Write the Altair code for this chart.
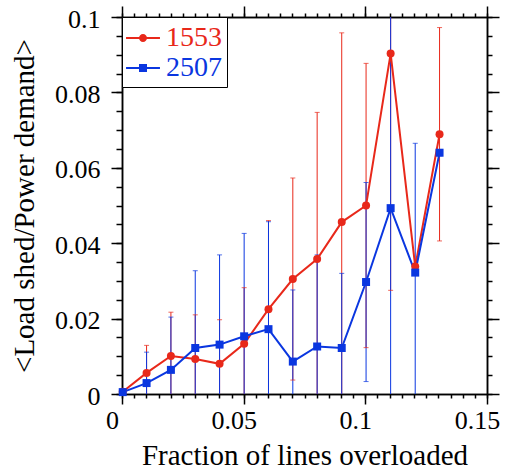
import altair as alt
import pandas as pd

FONT = "Liberation Serif"

# ---- data ----
frac = [0.0003, 0.0101, 0.0201, 0.0301, 0.0401, 0.0502, 0.0602,
        0.0702, 0.0802, 0.0903, 0.1003, 0.1104, 0.1205, 0.1305]

red_mean = [0.0006, 0.0056, 0.0101, 0.0093, 0.0080, 0.0133, 0.0225,
            0.0305, 0.0358, 0.0456, 0.0500, 0.0903, 0.0338, 0.0689]
red_err = [0.0005, 0.0073, 0.0116, 0.0117, 0.0117, 0.0149, 0.0235,
           0.0268, 0.0389, 0.0502, 0.0377, 0.0628, 0.0008, 0.0283]

blue_mean = [0.0005, 0.0029, 0.0064, 0.0122, 0.0131, 0.0153, 0.0172,
             0.0086, 0.0126, 0.0122, 0.0297, 0.0493, 0.0322, 0.0640]
blue_err = [0.0005, 0.0082, 0.0140, 0.0205, 0.0238, 0.0273, 0.0285,
            0.0190, 0.0243, 0.0198, 0.0264, 0.0560, 0.0343, 0.0008]

series_names = ["1553", "2507"]
series_colors = ["#E8281A", "#0A36E0"]

x_major = [0, 0.05, 0.1, 0.15]
y_major = [0, 0.02, 0.04, 0.06, 0.08, 0.1]
x_minor = [round(i * 0.005, 3) for i in range(31)]
y_minor = [round(i * 0.005, 3) for i in range(21)]

rows = []
for name, means, errs in [(series_names[0], red_mean, red_err),
                          (series_names[1], blue_mean, blue_err)]:
    for f, m, e in zip(frac, means, errs):
        rows.append({"series": name, "frac": f, "mean": m,
                     "lo": m - e, "hi": m + e})
df = pd.DataFrame(rows)

xs = alt.Scale(domain=[0, 0.15], nice=False, zero=False)
ys = alt.Scale(domain=[0, 0.1], nice=False, zero=False)
cscale = alt.Scale(domain=series_names, range=series_colors)

common = dict(domainColor="black", tickColor="black", domainWidth=1.5,
              tickWidth=1.5, grid=False, labelFont=FONT, labelColor="black")


def blank_axis(orient, values, size):
    return alt.Axis(orient=orient, values=values, tickSize=size, labels=False,
                    title=None, **common)


x_bottom = alt.Axis(orient="bottom", values=x_major, tickSize=10, format=".2~f",
                    labelFontSize=26, labelPadding=3, labelOffset=-10,
                    labelFlush=False, labelOverlap=False, labelBound=False,
                    title="Fraction of lines overloaded", titleFont=FONT,
                    titleFontSize=29, titleFontWeight="normal",
                    titleColor="black", titlePadding=8, **common)
y_left = alt.Axis(orient="left", values=y_major, tickSize=11, format=".2~f",
                  labelFontSize=26, labelPadding=11, labelOffset=2,
                  labelFlush=False, labelOverlap=False,
                  title="<Load shed/Power demand>", titleFont=FONT,
                  titleFontSize=29, titleFontWeight="normal",
                  titleColor="black", titlePadding=15, **common)

# legend symbols: a short line with the marker in its middle
CIRC = ("M-1.06,-0.0625L-0.2,-0.0625L-0.2,0.0625L-1.06,0.0625Z "
        "M0.2,-0.0625L1.06,-0.0625L1.06,0.0625L0.2,0.0625Z "
        "M-0.25,0A0.25,0.25,0,1,1,0.25,0A0.25,0.25,0,1,1,-0.25,0Z")
SQR = ("M-1.06,-0.0625L-0.2,-0.0625L-0.2,0.0625L-1.06,0.0625Z "
       "M0.2,-0.0625L1.06,-0.0625L1.06,0.0625L0.2,0.0625Z "
       "M-0.25,-0.25L0.25,-0.25L0.25,0.25L-0.25,0.25Z")

legend = alt.Legend(
    title=None, orient="top-left", offset=0, padding=5, rowPadding=0,
    labelOffset=7, labelFont=FONT, labelFontSize=28, symbolSize=1024,
    strokeColor="black", fillColor="white", cornerRadius=0,
    symbolStrokeWidth=0,
    labelColor=alt.ExprRef(
        expr=f"datum.value === '{series_names[1]}' ? '{series_colors[1]}' : '{series_colors[0]}'"),
)

base = alt.Chart(df)
color_enc = alt.Color("series:N", scale=cscale)

# layer that only carries the legend (no rows survive the filter)
legend_layer = base.transform_filter("false").mark_point(
    filled=True, opacity=1, size=1024
).encode(
    x=alt.X("frac:Q", scale=xs, axis=None),
    y=alt.Y("mean:Q", scale=ys, axis=None),
    color=alt.Color("series:N", scale=cscale, legend=legend),
    shape=alt.Shape("series:N",
                    scale=alt.Scale(domain=series_names, range=[CIRC, SQR]),
                    legend=legend),
)

rules = base.mark_rule(strokeWidth=1, clip=True).encode(
    x=alt.X("frac:Q", scale=xs, axis=blank_axis("bottom", x_minor, 4)),
    y=alt.Y("lo:Q", scale=ys, axis=blank_axis("left", y_minor, 6)),
    y2="hi:Q",
    color=color_enc,
)

caps_hi = base.mark_tick(orient="horizontal", size=5, thickness=1, clip=True).encode(
    x=alt.X("frac:Q", scale=xs, axis=blank_axis("top", x_major, 11)),
    y=alt.Y("hi:Q", scale=ys, axis=blank_axis("right", y_major, 12)),
    color=color_enc,
)

caps_lo = base.mark_tick(orient="horizontal", size=5, thickness=1, clip=True).encode(
    x=alt.X("frac:Q", scale=xs, axis=blank_axis("top", x_minor, 4)),
    y=alt.Y("lo:Q", scale=ys, axis=blank_axis("right", y_minor, 5)),
    color=color_enc,
)

lines = base.mark_line(strokeWidth=2).encode(
    x=alt.X("frac:Q", scale=xs, axis=x_bottom),
    y=alt.Y("mean:Q", scale=ys, axis=y_left),
    color=color_enc,
    detail="series:N",
)


def points_for(i, shape):
    return base.transform_filter(
        alt.datum.series == series_names[i]
    ).mark_point(filled=True, size=64, opacity=1, shape=shape).encode(
        x=alt.X("frac:Q", scale=xs, axis=None),
        y=alt.Y("mean:Q", scale=ys, axis=None),
        color=color_enc,
    )


pts_red = points_for(0, "circle")
pts_blue = points_for(1, "square")

chart = (
    alt.layer(legend_layer, rules, caps_hi, caps_lo, lines, pts_red, pts_blue)
    .resolve_axis(x="independent", y="independent")
    .properties(width=365, height=377,
                padding={"left": 122, "top": 17, "right": 22, "bottom": 78},
                autosize=alt.AutoSizeParams(type="none"),
                background="white")
    .configure_view(stroke=None)
)

chart.save("out.html", embed_options={"renderer": "svg", "actions": False})
